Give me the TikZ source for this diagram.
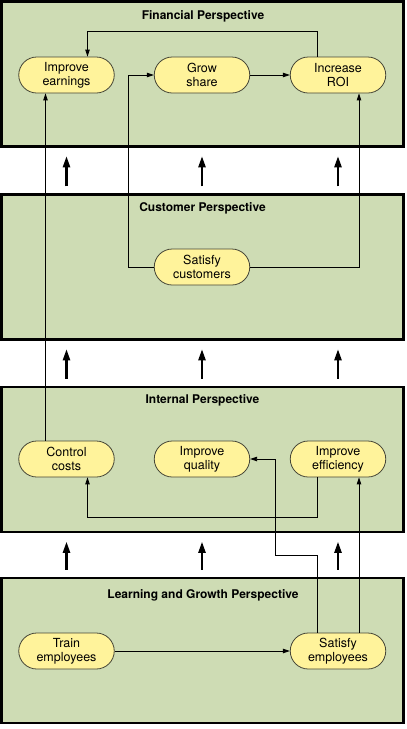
\documentclass[tikz,border=0pt]{standalone}
\usepackage{fontspec}
\setmainfont{TeX Gyre Heros}
\usetikzlibrary{shapes,arrows,calc,positioning,fit}
\usetikzlibrary{arrows.meta}

\begin{document}
\begin{tikzpicture}[x=1pt, y=-1pt, >={Triangle[length=7pt,width=4.5pt]}]
		\definecolor{mgreen}{RGB}{206,220,180}
		\definecolor{myellow}{RGB}{255,243,155}
		\definecolor{mgray}{RGB}{70,70,55}
		\tikzset{
			persp/.style={draw, line width=2.5pt, fill=mgreen, inner sep=0pt},
			ptitle/.style={font=\bfseries\fontsize{12}{14}\selectfont},
			goal/.style={draw=mgray, line width=0.8pt, fill=myellow,
				rounded corners=18pt, minimum width=95.5pt, minimum height=36pt,
				align=center, font=\fontsize{12.5}{14}\selectfont},
			link/.style={->, line width=0.9pt},
			bigarrow/.style={-{Triangle[length=11pt,width=7pt]}, line width=2.2pt,
				shorten >=8.5pt, shorten <=7pt}
		}
		\useasboundingbox (0,0) rectangle (407,729);

		% Perspectives
		\node[persp, fit={(1.5,1.5) (403.5,146.5)}] (fin) {};
		\node[persp, fit={(1.5,194.5) (403.5,339.5)}] (cust) {};
		\node[persp, fit={(1.5,387) (403.5,532)}] (intp) {};
		\node[persp, fit={(1.5,578) (403.5,723)}] (lrn) {};
		\node[ptitle] (fin-t) at (203,16) {Financial Perspective};
		\node[ptitle] (cust-t) at (202.5,208.5) {Customer Perspective};
		\node[ptitle] (intp-t) at (202.5,400) {Internal Perspective};
		\node[ptitle] (lrn-t) at (203,595) {Learning and Growth Perspective};

		% Goals
		\node[goal] (earn) at (66.5,75) {Improve\\earnings};
		\node[goal] (grow) at (202,75) {Grow\\share};
		\node[goal] (roi) at (338,75) {Increase\\ROI};
		\node[goal] (satc) at (202,267) {Satisfy\\customers};
		\node[goal] (cost) at (66.5,459) {Control\\costs};
		\node[goal] (qual) at (202,459) {Improve\\quality};
		\node[goal] (eff) at (338,459) {Improve\\efficiency};
		\node[goal] (train) at (66.5,651) {Train\\employees};
		\node[goal] (semp) at (338,651) {Satisfy\\employees};

		% Between perspectives
		\foreach \lo/\hi in {cust/fin, intp/cust, lrn/intp}
			\foreach \c in {earn, grow, roi}
				\draw[bigarrow] (\lo.north -| \c) -- (\hi.south -| \c);

		% Edges
		\draw[link] ([xshift=-21pt]roi.north) -- ++(0,-25) -| ([xshift=21pt]earn.north);
		\draw[link] (grow) -- (roi);
		\draw[link] (satc.west) -- ++(-25,0) |- (grow.west);
		\draw[link] (satc.east) -| ([xshift=21pt]roi.south);
		\draw[link] ([xshift=-21pt]cost.north) -- ([xshift=-21pt]earn.south);
		\draw[link] ([xshift=-21pt]eff.south) -- ++(0,40) -| ([xshift=21pt]cost.south);
		\coordinate (qbend) at (275,555);
		\draw[link] ([xshift=-21pt]semp.north) |- (qbend) |- (qual.east);
		\draw[link] ([xshift=21pt]semp.north) -- ([xshift=21pt]eff.south);
		\draw[link] (train) -- (semp);
	\end{tikzpicture}
\end{document}
